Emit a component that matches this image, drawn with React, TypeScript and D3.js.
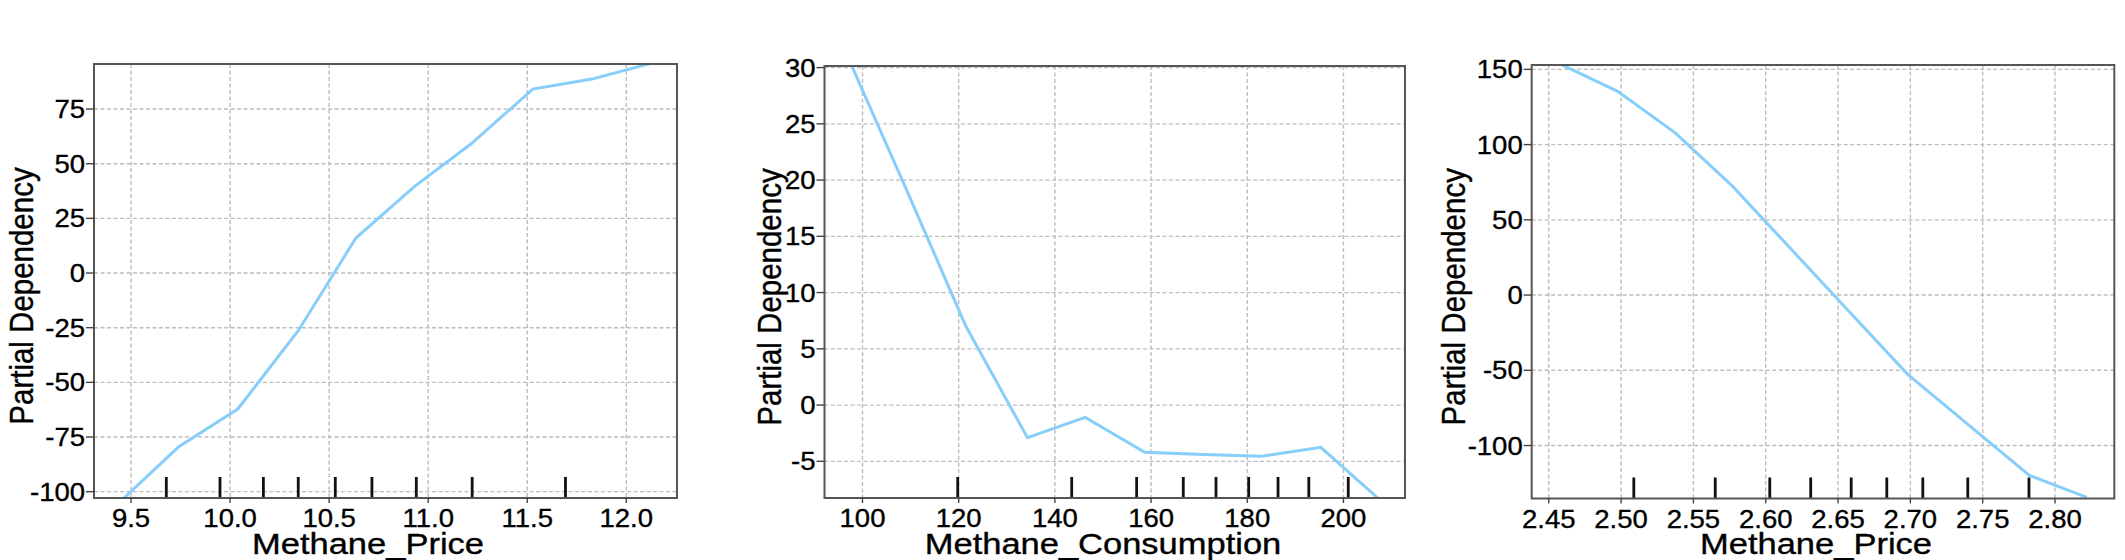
import React from "react";
import * as d3 from "d3";

// ---------- data ----------
const p1X = [9.44, 9.739, 10.039, 10.344, 10.635, 10.93, 11.217, 11.528, 11.826, 12.13];
const p1Y = [-105, -79.6, -62.2, -26.4, 16.0, 39.5, 59.1, 84.1, 88.7, 96.0];
const p1Rug = [9.678, 9.949, 10.168, 10.344, 10.531, 10.716, 10.94, 11.222, 11.693];
const p1XTicks = [9.5, 10.0, 10.5, 11.0, 11.5, 12.0];
const p1YTicks = [-100, -75, -50, -25, 0, 25, 50, 75];

const p2X = [97.4, 109.8, 121.5, 134.3, 146.3, 158.7, 170.8, 183.0, 195.3, 207.5];
const p2Y = [30.5, 18.5, 7.0, -2.9, -1.1, -4.2, -4.4, -4.55, -3.75, -8.4];
const p2Rug = [119.8, 143.5, 157.0, 166.7, 173.5, 180.3, 186.4, 192.8, 201.0];
const p2XTicks = [100, 120, 140, 160, 180, 200];
const p2YTicks = [-5, 0, 5, 10, 15, 20, 25, 30];

const p3X = [2.457, 2.4976, 2.5374, 2.577, 2.617, 2.657, 2.698, 2.74, 2.7823, 2.822];
const p3Y = [154, 135.4, 107.8, 72.4, 31.1, -10.2, -52.5, -86.1, -119.9, -134.5];
const p3Rug = [2.5088, 2.5651, 2.6028, 2.6311, 2.6591, 2.6837, 2.7086, 2.7397, 2.782];
const p3XTicks = [2.45, 2.5, 2.55, 2.6, 2.65, 2.7, 2.75, 2.8];
const p3YTicks = [-100, -50, 0, 50, 100, 150];

const xLabels = ["Methane_Price", "Methane_Consumption", "Methane_Price"];
const yLabel = "Partial Dependency";

// ---------- layout ----------
const FONT = "'Liberation Sans', Arial, sans-serif";

type PanelDef = {
  left: number; right: number; top: number; bottom: number;
  xDom: [number, number]; yDom: [number, number];
  xs: number[]; ys: number[]; rug: number[];
  xTicks: number[]; yTicks: number[]; xFmt: (v: number) => string;
  xLabel: string; yLabelX: number; xLabelX: number;
};

const panels: PanelDef[] = [
  {
    left: 94, right: 677, top: 64, bottom: 498,
    xDom: [9.313, 12.256], yDom: [-102.9, 95.6],
    xs: p1X, ys: p1Y, rug: p1Rug, xTicks: p1XTicks, yTicks: p1YTicks,
    xFmt: d3.format(".1f"), xLabel: xLabels[0], yLabelX: 33, xLabelX: 368,
  },
  {
    left: 824.5, right: 1405, top: 66, bottom: 498,
    xDom: [92.1, 212.8], yDom: [-8.26, 30.14],
    xs: p2X, ys: p2Y, rug: p2Rug, xTicks: p2XTicks, yTicks: p2YTicks,
    xFmt: d3.format("d"), xLabel: xLabels[1], yLabelX: 781, xLabelX: 1103,
  },
  {
    left: 1531.7, right: 2114.3, top: 65, bottom: 498.5,
    xDom: [2.4382, 2.841], yDom: [-135.2, 152.9],
    xs: p3X, ys: p3Y, rug: p3Rug, xTicks: p3XTicks, yTicks: p3YTicks,
    xFmt: d3.format(".2f"), xLabel: xLabels[2], yLabelX: 1465, xLabelX: 1816,
  },
];

function SText(props: {
  x: number; y: number; anchor: string; size: number; sx: number; rotate?: number; dy?: string; children: React.ReactNode;
}) {
  const { x, y, anchor, size, sx, rotate, dy, children } = props;
  return (
    <g transform={`translate(${x},${y}) scale(${sx},1)${rotate ? ` rotate(${rotate})` : ""}`}>
      <text textAnchor={anchor} fontSize={size} fontFamily={FONT} fill="#000"
        stroke="#000" strokeWidth={0.35} dy={dy}>
        {children}
      </text>
    </g>
  );
}

function Panel({ p, idx }: { p: PanelDef; idx: number }) {
  const x = d3.scaleLinear().domain(p.xDom).range([p.left, p.right]);
  const y = d3.scaleLinear().domain(p.yDom).range([p.bottom, p.top]);
  const pts = p.xs.map((v, i) => [v, p.ys[i]] as [number, number]);
  const line = d3.line<[number, number]>().x((d) => x(d[0])).y((d) => y(d[1]));
  const clipId = `clip${idx}`;
  const gridColor = "#bdbdbd";
  return (
    <g>
      <defs>
        <clipPath id={clipId}>
          <rect x={p.left} y={p.top} width={p.right - p.left} height={p.bottom - p.top} />
        </clipPath>
      </defs>
      {p.xTicks.map((t) => (
        <line key={"gx" + t} x1={x(t)} x2={x(t)} y1={p.top} y2={p.bottom}
          stroke={gridColor} strokeWidth={1.4} strokeDasharray="4,2.5" />
      ))}
      {p.yTicks.map((t) => (
        <line key={"gy" + t} x1={p.left} x2={p.right} y1={y(t)} y2={y(t)}
          stroke={gridColor} strokeWidth={1.4} strokeDasharray="4,2.5" />
      ))}
      {p.rug.map((r, i) => (
        <line key={"r" + i} x1={x(r)} x2={x(r)} y1={p.bottom} y2={p.bottom - 21}
          stroke="#111" strokeWidth={2.8} />
      ))}
      <path d={line(pts) || ""} fill="none" stroke="#87cefa" strokeWidth={3}
        clipPath={`url(#${clipId})`} />
      <rect x={p.left} y={p.top} width={p.right - p.left} height={p.bottom - p.top}
        fill="none" stroke="#555" strokeWidth={2} />
      {p.yTicks.map((t) => (
        <g key={"yt" + t}>
          <line x1={p.left - 8} x2={p.left} y1={y(t)} y2={y(t)} stroke="#444" strokeWidth={1.4} />
          <SText x={p.left - 9} y={y(t)} anchor="end" size={25} sx={1.1} dy="0.36em">{String(t)}</SText>
        </g>
      ))}
      {p.xTicks.map((t) => (
        <g key={"xt" + t}>
          <line x1={x(t)} x2={x(t)} y1={p.bottom} y2={p.bottom + 5} stroke="#444" strokeWidth={1.4} />
          <SText x={x(t)} y={p.bottom + 29} anchor="middle" size={25} sx={1.1}>{p.xFmt(t)}</SText>
        </g>
      ))}
      <SText x={p.xLabelX} y={554} anchor="middle" size={30} sx={1.15}>{p.xLabel}</SText>
      <SText x={p.yLabelX} y={(p.top + p.bottom) / 2 + 15} anchor="middle" size={29.5} sx={1.15} rotate={-90}>{yLabel}</SText>
    </g>
  );
}

export default function App() {
  return (
    <svg width={2125} height={560} style={{ position: "absolute", left: 0, top: 0, background: "#fff" }}>
      <rect x={0} y={0} width={2125} height={560} fill="#fff" />
      {panels.map((p, i) => (
        <Panel key={i} p={p} idx={i} />
      ))}
    </svg>
  );
}
